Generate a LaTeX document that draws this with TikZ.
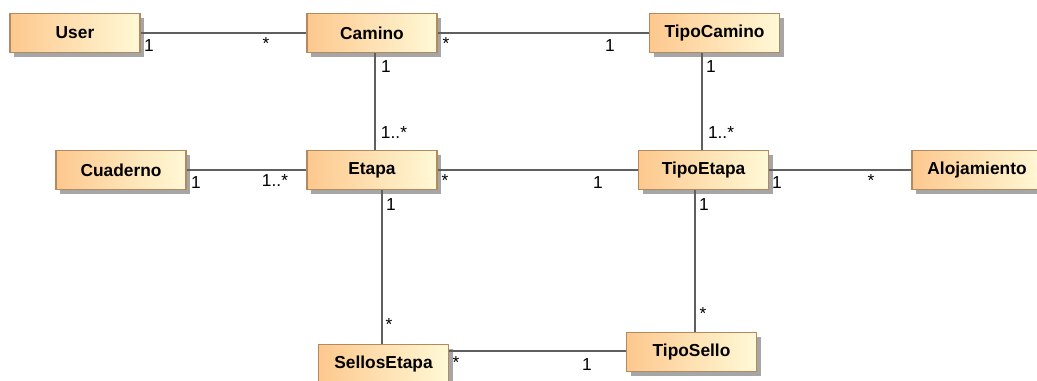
\documentclass[tikz,border=0pt]{standalone}
\usepackage{fontspec}
\setmainfont{Liberation Sans}
\usetikzlibrary{shadows,calc}
\definecolor{boxleft}{RGB}{253,200,142}
\definecolor{boxright}{RGB}{255,249,214}
\definecolor{boxedge}{RGB}{178,138,96}
\definecolor{linkgray}{RGB}{95,95,95}
\tikzset{
  umlclass/.style={rectangle, minimum width=97.5pt, minimum height=29.25pt,
    inner sep=0pt, draw=boxedge, line width=0.9pt,
    left color=boxleft, right color=boxright,
    drop shadow={shadow xshift=3pt, shadow yshift=-3pt, fill=black!35, opacity=1},
    font=\fontsize{13pt}{15pt}\selectfont\bfseries},
  assoc/.style={draw=linkgray, line width=1.1pt},
  mult/.style={inner sep=0pt, font=\fontsize{13pt}{15pt}\selectfont}
}
\begin{document}
\begin{tikzpicture}[x=0.75pt, y=-0.75pt]
\useasboundingbox (0,0) rectangle (1037,380);
\fill[white] (0,0) rectangle (1037,380);

% classes
\node[umlclass] (user)   at (75,33)    {User};
\node[umlclass] (camino) at (372,33)   {Camino};
\node[umlclass] (tcam)   at (714.5,33) {TipoCamino};
\node[umlclass] (cuad)   at (121,170)  {Cuaderno};
\node[umlclass] (etapa)  at (372,170)  {Etapa};
\node[umlclass] (tetapa) at (703.5,170){TipoEtapa};
\node[umlclass] (aloj)   at (977,170)  {Alojamiento};
\node[umlclass] (sellos) at (383.5,364){SellosEtapa};
\node[umlclass] (tsello) at (691.5,352){TipoSello};

% column positions of the vertical associations
\coordinate (c1) at (375,0);
\coordinate (c2) at (702,0);
\coordinate (c3) at (382,0);
\coordinate (c4) at (695,0);
\coordinate (r3) at (0,351);

% associations
\draw[assoc] (user.east) -- (camino.west);
\draw[assoc] (camino.east) -- (tcam.west);
\draw[assoc] (cuad.east) -- (etapa.west);
\draw[assoc] (etapa.east) -- (tetapa.west);
\draw[assoc] (tetapa.east) -- (aloj.west);
\draw[assoc] (camino.south -| c1) -- (etapa.north -| c1);
\draw[assoc] (tcam.south -| c2) -- (tetapa.north -| c2);
\draw[assoc] (etapa.south -| c3) -- (sellos.north -| c3);
\draw[assoc] (tetapa.south -| c4) -- (tsello.north -| c4);
\draw[assoc] (sellos.east |- r3) -- (tsello.west |- r3);

% multiplicities
\node[mult] (m1)  at (149,46)  {1};
\node[mult] (m2)  at (266,44)  {*};
\node[mult] (m3)  at (446,44)  {*};
\node[mult] (m4)  at (610,46)  {1};
\node[mult] (m5)  at (386,67)  {1};
\node[mult] (m6)  at (394,133) {1..*};
\node[mult] (m7)  at (711,67)  {1};
\node[mult] (m8)  at (721,133) {1..*};
\node[mult] (m9)  at (196,183) {1};
\node[mult] (m10) at (275,181) {1..*};
\node[mult] (m11) at (445,181) {*};
\node[mult] (m12) at (598,183) {1};
\node[mult] (m13) at (777,183) {1};
\node[mult] (m14) at (871,181) {*};
\node[mult] (m15) at (391,205) {1};
\node[mult] (m16) at (389,325) {*};
\node[mult] (m17) at (704,205) {1};
\node[mult] (m18) at (703,314) {*};
\node[mult] (m19) at (456,363) {*};
\node[mult] (m20) at (587,365) {1};
\end{tikzpicture}
\end{document}
